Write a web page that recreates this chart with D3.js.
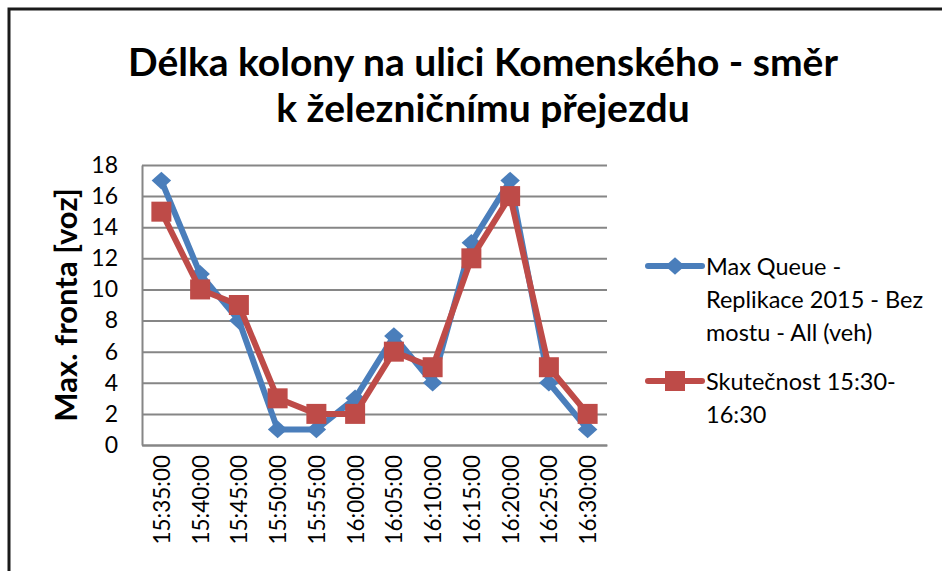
<!DOCTYPE html>
<html>
<head>
<meta charset="utf-8">
<script src="https://cdn.jsdelivr.net/npm/d3@7"></script>
<style>
  body { margin: 0; background: #fff; }
  text { font-family: Lato, "Open Sans", sans-serif; fill: #000; }
</style>
</head>
<body>
<div id="chart"></div>
<script>
// data
const times = ["15:35:00", "15:40:00", "15:45:00", "15:50:00", "15:55:00", "16:00:00",
               "16:05:00", "16:10:00", "16:15:00", "16:20:00", "16:25:00", "16:30:00"];
const maxQueue = [17, 11, 8, 1, 1, 3, 7, 4, 13, 17, 4, 1];
const skutecnost = [15, 10, 9, 3, 2, 2, 6, 5, 12, 16, 5, 2];
const yTicks = [0, 2, 4, 6, 8, 10, 12, 14, 16, 18];
const titleLines = ["Délka kolony na ulici Komenského - směr", "k železničnímu přejezdu"];
const yTitle = "Max. fronta [voz]";
const legendBlue = ["Max Queue -", "Replikace 2015 - Bez", "mostu - All (veh)"];
const legendRed = ["Skutečnost 15:30-", "16:30"];

const W = 942, H = 571;
const margin = {top: 165, right: 335, bottom: 126, left: 142},
    width = W - margin.left - margin.right,
    height = H - margin.top - margin.bottom;

const blue = "#4A7EBB", red = "#BE4B48";

let svg = d3.select("#chart")
  .append("svg")
    .attr("width", W)
    .attr("height", H);

// outer frame (top and left visible)
svg.append("path")
  .attr("d", "M9,571 V9 H942")
  .attr("fill", "none")
  .attr("stroke", "#1a1a1a")
  .attr("stroke-width", 3);

// title
svg.append("text")
  .attr("text-anchor", "middle")
  .style("font-weight", "bold")
  .style("font-size", "39px")
  .selectAll("tspan")
  .data(titleLines)
  .enter()
  .append("tspan")
    .attr("x", 483)
    .attr("y", function(d, i) { return 76 + i * 46; })
    .text(function(d) { return d; });

let g = svg.append("g")
  .attr("transform", "translate(" + margin.left + "," + margin.top + ")");

let x = d3.scaleBand()
  .domain(times)
  .range([0, width])
  .padding(0);

let y = d3.scaleLinear()
  .domain([0, 18])
  .range([height, 0]);

// gridlines
g.append("g")
  .call(d3.axisLeft(y).tickValues(yTicks).tickSize(-width).tickFormat(""))
  .call(function(s) {
    s.select(".domain").remove();
    s.selectAll("line").attr("stroke", "#868686").attr("stroke-width", 2);
  });

// y axis
g.append("g")
  .call(d3.axisLeft(y).tickValues(yTicks).tickSize(0).tickPadding(24))
  .call(function(s) {
    s.select(".domain").attr("stroke", "#868686").attr("stroke-width", 2);
    s.selectAll("text").style("font-size", "23px").style("font-family", "Lato, sans-serif").attr("fill", "#000");
  });

// x axis
g.append("g")
  .attr("transform", "translate(0," + height + ")")
  .call(d3.axisBottom(x).tickSize(0).tickPadding(0))
  .call(function(s) {
    s.select(".domain").attr("stroke", "#868686").attr("stroke-width", 2);
    s.selectAll("text")
      .style("font-size", "22.5px")
      .style("font-family", "Lato, sans-serif")
      .attr("fill", "#000")
      .attr("text-anchor", "end")
      .attr("dominant-baseline", "central")
      .attr("dy", null)
      .attr("y", 0)
      .attr("transform", "translate(0,10) rotate(-90)");
  });

// y title
svg.append("text")
  .attr("transform", "translate(65," + (margin.top + height / 2) + ") rotate(-90)")
  .attr("text-anchor", "middle")
  .attr("dominant-baseline", "central")
  .style("font-weight", "bold")
  .style("font-size", "31px")
  .text(yTitle);

let cx = function(d, i) { return x(times[i]) + x.bandwidth() / 2; };

let line = d3.line()
  .x(function(d, i) { return x(times[i]) + x.bandwidth() / 2; })
  .y(function(d) { return y(d); });

g.append("path")
  .datum(maxQueue)
  .attr("fill", "none")
  .attr("stroke", blue)
  .attr("stroke-width", 6)
  .attr("stroke-linejoin", "round")
  .attr("d", line);

g.selectAll(".diamond")
  .data(maxQueue)
  .enter()
  .append("path")
    .attr("class", "diamond")
    .attr("d", d3.symbol().type(d3.symbolDiamond2).size(220))
    .attr("transform", function(d, i) { return "translate(" + cx(d, i) + "," + y(d) + ") scale(1.05,0.95)"; })
    .attr("fill", blue);

g.append("path")
  .datum(skutecnost)
  .attr("fill", "none")
  .attr("stroke", red)
  .attr("stroke-width", 6)
  .attr("stroke-linejoin", "round")
  .attr("d", line);

g.selectAll(".square")
  .data(skutecnost)
  .enter()
  .append("rect")
    .attr("class", "square")
    .attr("x", function(d, i) { return cx(d, i) - 10; })
    .attr("y", function(d) { return y(d) - 10; })
    .attr("width", 20)
    .attr("height", 20)
    .attr("fill", red);

// legend
let legend = svg.append("g");

function legendItem(top, color, lines, isDiamond) {
  legend.append("line")
    .attr("x1", 648).attr("x2", 702)
    .attr("y1", top).attr("y2", top)
    .attr("stroke", color)
    .attr("stroke-width", 6)
    .attr("stroke-linecap", "round");
  if (isDiamond) {
    legend.append("path")
      .attr("d", d3.symbol().type(d3.symbolDiamond2).size(220))
      .attr("transform", "translate(675," + top + ") scale(1.05,0.95)")
      .attr("fill", color);
  } else {
    legend.append("rect")
      .attr("x", 665).attr("y", top - 10)
      .attr("width", 20).attr("height", 20)
      .attr("fill", color);
  }
  legend.append("text")
    .style("font-size", "23.5px")
    .selectAll("tspan")
    .data(lines)
    .enter()
    .append("tspan")
      .attr("x", 706)
      .attr("y", function(d, i) { return top + 9 + i * 33; })
      .text(function(d) { return d; });
}

legendItem(266, blue, legendBlue, true);
legendItem(381, red, legendRed, false);
</script>
</body>
</html>
